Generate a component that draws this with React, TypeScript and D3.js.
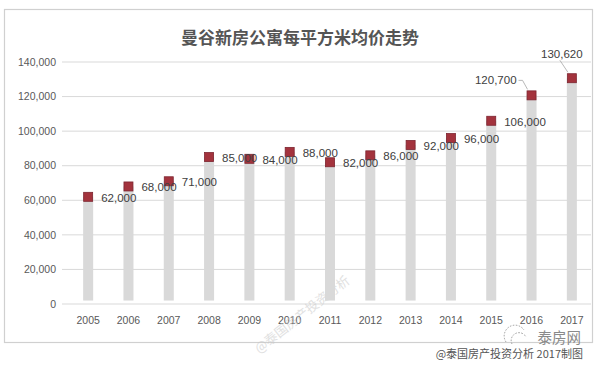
import React from "react";
import * as d3 from "d3";

const years = ["2005","2006","2007","2008","2009","2010","2011","2012","2013","2014","2015","2016","2017"];
const prices = [62000, 68000, 71000, 85000, 84000, 88000, 82000, 86000, 92000, 96000, 106000, 120700, 130620];
const yTicks = [0, 20000, 40000, 60000, 80000, 100000, 120000, 140000];
const labelPlacement = ["right","right","right","right","right","right","right","right","right","right","right","leftUp","up"];
const title = "曼谷新房公寓每平方米均价走势";

const W = 600, H = 367;
const NUM = "'Liberation Sans', Arial, sans-serif";
const CJK = "'Noto Sans CJK SC', sans-serif";

export default function App() {
  const x = d3.scaleBand<string>().domain(years).range([68, 592]).padding(0);
  const y = d3.scaleLinear().domain([0, 140000]).range([304, 62]);
  const fmt = d3.format(",");
  const barW = 10;
  const m = 9;
  const cx = (yr: string) => (x(yr) as number) + x.bandwidth() / 2;

  return (
    <svg width={W} height={H} style={{ position: "absolute", left: 0, top: 0, background: "#fff" }}>
      <rect x={0} y={0} width={W} height={H} fill="#fff" />
      <rect x={4.5} y={9.5} width={588} height={333} fill="#fff" stroke="#d0d0d0" strokeWidth={1.2} />
      <text x={300} y={44} textAnchor="middle" fontFamily={CJK} fontSize={17} fontWeight={700} fill="#555">{title}</text>
      {yTicks.map(t => (
        <g key={t}>
          <line x1={62} x2={591} y1={y(t)} y2={y(t)} stroke="#d9d9d9" strokeWidth={1} />
          <text x={56} y={y(t)} dy="0.35em" textAnchor="end" fontFamily={NUM} fontSize={10.5} fill="#595959">{fmt(t)}</text>
        </g>
      ))}
      {years.map(yr => (
        <text key={yr} x={cx(yr)} y={320} dy="0.35em" textAnchor="middle" fontFamily={NUM} fontSize={10.5} fill="#595959">{yr}</text>
      ))}
      {/* watermark */}
      <text x={305} y={318} transform="rotate(-38 305 318)" textAnchor="middle" fontFamily={CJK} fontSize={13} fill="#c8c8c8" opacity={0.55}>@泰国房产投资分析</text>
      {years.map((yr, i) => (
        <rect key={"b" + yr} x={cx(yr) - barW / 2} y={y(prices[i])} width={barW} height={y(2000) - y(prices[i])} fill="#d9d9d9" />
      ))}
      {years.map((yr, i) => (
        <rect key={"m" + yr} x={cx(yr) - m / 2} y={y(prices[i]) - m / 2} width={m} height={m} fill="#a3333d" stroke="#7d2530" strokeWidth={0.8} />
      ))}
      {years.map((yr, i) => {
        const px = cx(yr), py = y(prices[i]);
        const p = labelPlacement[i];
        if (p === "right") {
          return <text key={"l" + yr} x={px + 13} y={py + 1} dy="0.35em" fontFamily={NUM} fontSize={11.5} fill="#404040">{fmt(prices[i])}</text>;
        }
        if (p === "leftUp") {
          return (
            <g key={"l" + yr}>
              <text x={px - 15} y={py - 15} dy="0.35em" textAnchor="end" fontFamily={NUM} fontSize={11.5} fill="#404040">{fmt(prices[i])}</text>
              <polyline points={`${px - 13},${py - 15} ${px - 9},${py - 15} ${px - 4},${py - 6}`} fill="none" stroke="#a6a6a6" strokeWidth={0.8} />
            </g>
          );
        }
        return (
          <g key={"l" + yr}>
            <text x={px - 10} y={py - 24} dy="0.35em" textAnchor="middle" fontFamily={NUM} fontSize={11.5} fill="#404040">{fmt(prices[i])}</text>
            <line x1={px - 12} y1={py - 18} x2={px - 4} y2={py - 6} stroke="#a6a6a6" strokeWidth={0.8} />
          </g>
        );
      })}
      {/* brand */}
      <g stroke="#9a9a9a" strokeWidth={1} strokeDasharray="1.5 1.5" fill="none">
        <path d="M 506 342 A 10 10 0 0 1 524 330" />
        <path d="M 512 344 A 6 6 0 0 1 526 337" />
      </g>
      <text x={581} y={343} textAnchor="end" fontFamily={CJK} fontSize={14.5} fill="#8a8a8a">泰房网</text>
      <text x={583} y={358} textAnchor="end" fontFamily={CJK} fontSize={11} fill="#555">@泰国房产投资分析 2017制图</text>
    </svg>
  );
}
